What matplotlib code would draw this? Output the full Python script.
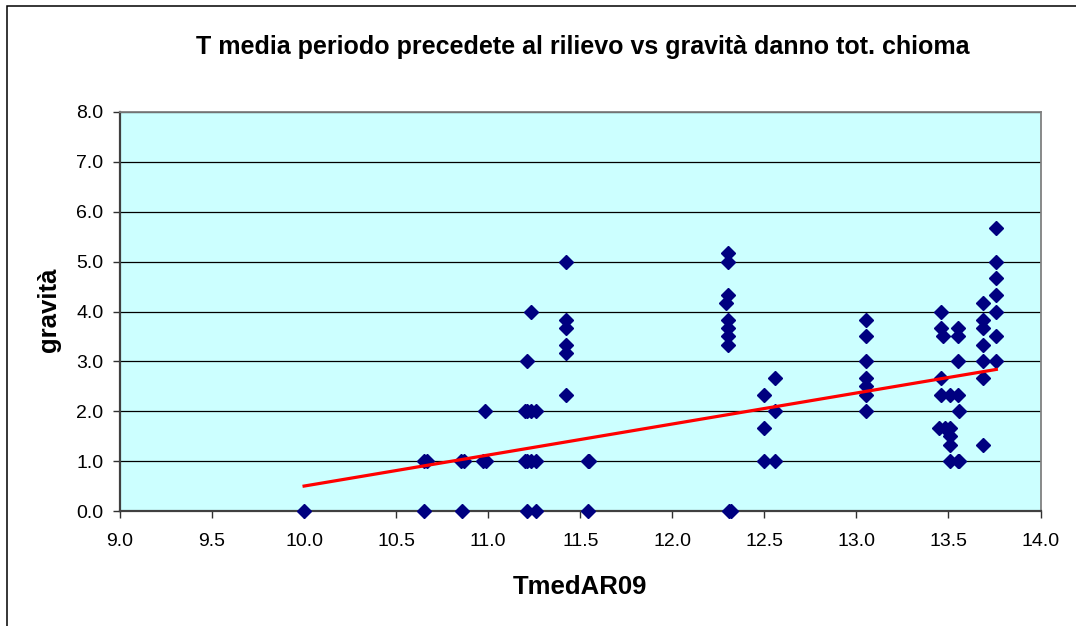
import numpy as np
import matplotlib
matplotlib.use("Agg")
import matplotlib.pyplot as plt
from matplotlib.patches import Rectangle

plt.rcParams["font.family"] = ["Liberation Sans", "DejaVu Sans"]

# TmedAR09 vs gravita, one entry per plant
tmed = [
    10.00,
    10.65, 10.67, 10.65,
    10.85, 10.87, 10.86,
    10.98, 10.97, 10.99,
    11.21, 11.21, 11.21, 11.21,
    11.20, 11.20,
    11.23, 11.23, 11.23,
    11.26, 11.26, 11.26,
    11.42, 11.42, 11.42, 11.42, 11.42, 11.42,
    11.54, 11.55, 11.54,
    12.30, 12.30, 12.30, 12.30, 12.30, 12.30, 12.30, 12.29, 12.31, 12.32,
    12.50, 12.50, 12.50,
    12.56, 12.56, 12.56,
    13.05, 13.05, 13.05, 13.05, 13.05, 13.05, 13.05,
    13.46, 13.46, 13.46, 13.46, 13.47, 13.45, 13.48,
    13.51, 13.51, 13.51, 13.51, 13.51,
    13.55, 13.55, 13.55, 13.55, 13.55,
    13.56, 13.56,
    13.69, 13.69, 13.69, 13.69, 13.69, 13.69, 13.69,
    13.76, 13.76, 13.76, 13.76, 13.76, 13.76, 13.76,
]
gravita = [
    0.0,
    1.0, 1.0, 0.0,
    1.0, 1.0, 0.0,
    2.0, 1.0, 1.0,
    3.0, 2.0, 1.0, 0.0,
    2.0, 1.0,
    4.0, 2.0, 1.0,
    2.0, 1.0, 0.0,
    5.0, 3.83, 3.67, 3.33, 3.17, 2.33,
    1.0, 1.0, 0.0,
    5.17, 5.0, 4.33, 3.83, 3.67, 3.5, 3.33, 4.17, 0.0, 0.0,
    2.33, 1.67, 1.0,
    2.67, 2.0, 1.0,
    3.83, 3.5, 3.0, 2.67, 2.5, 2.33, 2.0,
    4.0, 3.67, 2.67, 2.33, 3.5, 1.67, 1.67,
    2.33, 1.67, 1.5, 1.33, 1.0,
    3.67, 3.5, 3.0, 2.33, 1.0,
    2.0, 1.0,
    4.17, 3.83, 3.67, 3.33, 3.0, 2.67, 1.33,
    5.67, 5.0, 4.67, 4.33, 4.0, 3.5, 3.0,
]

# linear trend line
trend_slope = 0.622
trend_intercept = -5.72

x_ticks = [9.0, 9.5, 10.0, 10.5, 11.0, 11.5, 12.0, 12.5, 13.0, 13.5, 14.0]
y_ticks = [0.0, 1.0, 2.0, 3.0, 4.0, 5.0, 6.0, 7.0, 8.0]

fig = plt.figure(figsize=(10.76, 6.26), dpi=100)
fig.patch.set_facecolor("white")

# outer chart frame
fig.patches.append(Rectangle((7 / 1076, -0.1), 1.2, 1.1 - 6 / 626,
                             transform=fig.transFigure, fill=False,
                             edgecolor="black", linewidth=1.1))

ax = fig.add_axes([120 / 1076, 1 - 511 / 626, 920.5 / 1076, 399 / 626])
ax.set_facecolor("#CCFFFF")

ax.set_xlim(9.0, 14.0)
ax.set_ylim(0.0, 8.0)
ax.set_xticks(x_ticks)
ax.set_yticks(y_ticks)
ax.set_xticklabels([f"{v:.1f}" for v in x_ticks])
ax.set_yticklabels([f"{v:.1f}" for v in y_ticks])

for y in y_ticks[1:]:
    ax.axhline(y, color="black", linewidth=0.9, zorder=1)

for side in ["top", "right"]:
    ax.spines[side].set_color("#808080")
    ax.spines[side].set_linewidth(1.3)
for side in ["bottom", "left"]:
    ax.spines[side].set_color("#404040")
    ax.spines[side].set_linewidth(1.6)

ax.tick_params(axis="both", direction="out", length=5, width=1.0,
               color="#303030", labelsize=14, labelcolor="black")
ax.tick_params(axis="x", pad=11)
ax.tick_params(axis="y", pad=7)

ax.plot(tmed, gravita, linestyle="none", marker="D", markersize=7.5,
        color="#000080", clip_on=False, zorder=3)

tx = np.array([min(tmed), max(tmed)])
ax.plot(tx, trend_slope * tx + trend_intercept, color="#FF0000",
        linewidth=2.3, zorder=4)

fig.text(583 / 1076, 1 - 47 / 626,
         "T media periodo precedete al rilievo vs gravità danno tot. chioma",
         ha="center", va="center", fontsize=18, fontweight="bold")
fig.text(580 / 1076, 1 - 587 / 626, "TmedAR09", ha="center", va="center",
         fontsize=18.5, fontweight="bold")
fig.text(49 / 1076, 1 - 310 / 626, "gravità", ha="center", va="center",
         rotation=90, fontsize=18.5, fontweight="bold")

fig.savefig("out.png", dpi=100)
